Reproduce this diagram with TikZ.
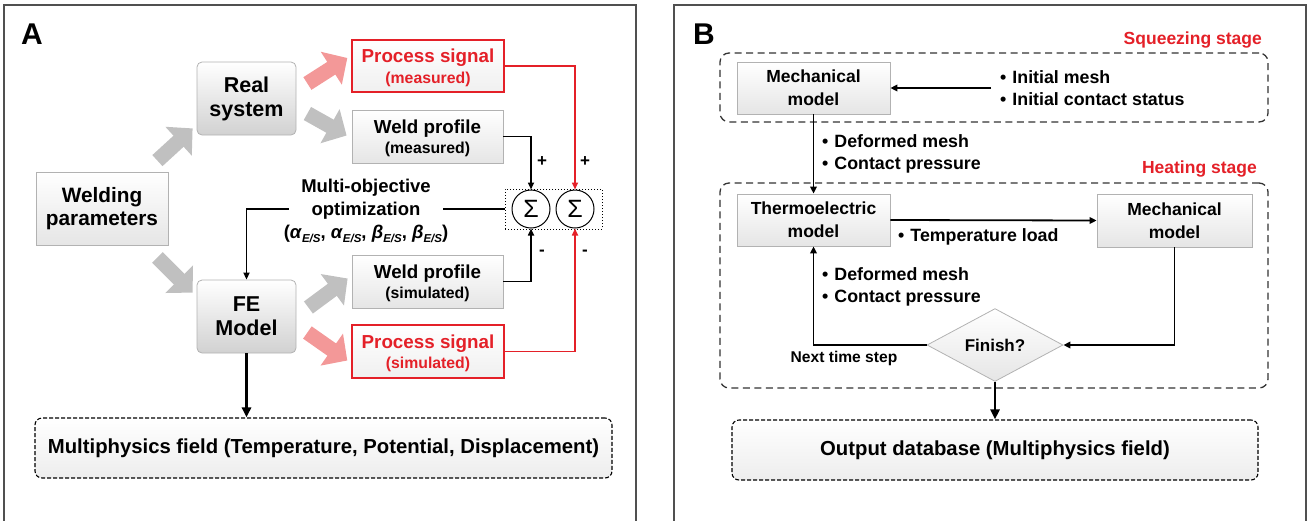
\documentclass[tikz,border=0pt]{standalone}
\usepackage{fontspec}
\setmainfont{Liberation Sans}
\usetikzlibrary{arrows.meta,shapes.geometric,calc}

\definecolor{sigred}{RGB}{228,32,40}
\definecolor{pinkarrow}{RGB}{243,152,152}
\definecolor{grayarrow}{RGB}{192,192,192}
\definecolor{boxedge}{RGB}{178,178,178}
\definecolor{panelgray}{RGB}{80,80,80}

\newcommand{\bigline}{\fontsize{18.8}{20.5}\selectfont}
\newcommand{\smallline}{\fontsize{15.8}{20.5}\selectfont}
\newcommand{\ESsub}{\raisebox{-3.5pt}{\fontsize{11.5}{11.5}\selectfont\itshape E/S}}

\tikzset{
  every node/.style={font=\bfseries},
  panel/.style={draw=panelgray, line width=1.5pt},
  shadebox/.style={draw=boxedge, line width=0.8pt, top color=white, bottom color=black!10,
    align=center, inner sep=0pt},
  roundbox/.style={shadebox, rounded corners=5pt, bottom color=black!18,
    minimum width=99pt, minimum height=73pt, font=\fontsize{21.5}{24}\selectfont\bfseries},
  redbox/.style={shadebox, draw=sigred, line width=1.4pt, bottom color=black!6, text=sigred,
    minimum width=152pt, minimum height=52pt, font=\bigline\bfseries, text depth=-1pt},
  grbox/.style={shadebox, minimum width=151pt, minimum height=53pt, font=\bigline\bfseries,
    text depth=-1pt},
  modelbox/.style={shadebox, font=\fontsize{17.5}{23}\selectfont\bfseries,
    minimum width=153pt, minimum height=52pt},
  outbox/.style={shadebox, draw=black, line width=1.1pt, dash pattern=on 4pt off 2pt,
    rounded corners=7pt, bottom color=black!7, font=\fontsize{20.3}{22}\selectfont\bfseries},
  stagebox/.style={draw=black!80, line width=1.3pt, dash pattern=on 7pt off 4.5pt,
    rounded corners=9pt, inner sep=0pt},
  sumnode/.style={circle, draw=black, line width=1pt, minimum size=38pt, inner sep=0pt,
    font=\fontsize{25}{25}\selectfont\mdseries},
  blk/.style={line width=15pt, -{Triangle[length=19pt,width=38pt]}},
  conn/.style={draw=black, line width=1.6pt, -{Triangle[length=7pt,width=6pt]}},
  redconn/.style={conn, draw=sigred, -{Triangle[length=7pt,width=6pt,fill=sigred]}},
  bconn/.style={draw=black, line width=1.8pt, -{Triangle[length=7pt,width=6.5pt]}},
  thickconn/.style={draw=black, line width=2.6pt, -{Triangle[length=10pt,width=9pt]}},
  txt/.style={font=\fontsize{17.8}{22}\selectfont\bfseries, align=left, inner sep=0pt},
  sign/.style={font=\fontsize{17}{17}\selectfont\bfseries, inner sep=0pt},
  stagelabel/.style={font=\fontsize{17.5}{18}\selectfont\bfseries, text=sigred, inner sep=0pt},
}

\begin{document}
\begin{tikzpicture}[x=1pt,y=-1pt]
\useasboundingbox (0,0) rectangle (1308,520);
\clip (0,0) rectangle (1308,520);

% ---------------- panel A ----------------
\draw[panel] (4,530) -- (4,5) -- (636,5) -- (636,530);
\node[font=\fontsize{30}{30}\selectfont\bfseries] (la) at (32,34) {A};

\node[shadebox, minimum width=132pt, minimum height=73pt,
      font=\fontsize{20.8}{23.5}\selectfont\bfseries] (wp) at (102,208.5) {Welding\\parameters};
\node[roundbox] (rs) at (246.5,98.5) {Real\\system};
\node[roundbox] (fe) at (246.5,316.5) {FE\\Model};

\node[redbox] (ps1) at (428,66)
  {\bigline Process signal\\\smallline (measured)};
\node[grbox] (wpm) at (427.5,136.5)
  {\bigline Weld profile\\\smallline (measured)};
\node[grbox] (wps) at (427.5,281.5)
  {\bigline Weld profile\\\smallline (simulated)};
\node[redbox, minimum height=53pt] (ps2) at (428,351.5)
  {\bigline Process signal\\\smallline (simulated)};

\node[sumnode] (s1) at (531,209) {Σ};
\node[sumnode] (s2) at (575,209) {Σ};
\node[draw=black, line width=1pt, dotted, minimum width=97pt, minimum height=40pt,
      inner sep=0pt] (sb) at (553.5,209) {};

\node[outbox, minimum width=577pt, minimum height=60pt] (mp) at (323.5,448)
  {Multiphysics field (Temperature, Potential, Displacement)};

% block arrows
\draw[blk, grayarrow] ([shift={(-11,-11)}]wp.north east) -- ([shift={(-4,-7)}]rs.south west);
\draw[blk, grayarrow] ([shift={(-11,12)}]wp.south east) -- ([shift={(-4,13)}]fe.north west);
\draw[blk, pinkarrow] ([shift={(11,-15)}]rs.east) -- ([shift={(-4,-8)}]ps1.west);
\draw[blk, grayarrow] ([shift={(11,15)}]rs.east) -- ([shift={(-5,-1)}]wpm.west);
\draw[blk, grayarrow] ([shift={(12,-9)}]fe.east) -- ([shift={(-4,-3)}]wps.west);
\draw[blk, pinkarrow] ([shift={(11,16)}]fe.east) -- ([shift={(-4,9)}]ps2.west);

% connectors into the summing junctions
\draw[conn] (wpm.east) -| (s1.north);
\draw[conn] (wps.east) -| (s1.south);
\draw[redconn] (ps1.east) -| (s2.north);
\draw[redconn] (ps2.east) -| (s2.south);
\node[sign] (p1) at (542,162) {+};
\node[sign] (p2) at (585,162) {+};
\node[sign] (m1) at (542,253) {-};
\node[sign] (m2) at (585,253) {-};

% optimisation feedback to the FE model
\draw[conn] (sb.west) -| (fe.north);
\node[fill=white, align=center, inner xsep=-5pt, inner ysep=1pt,
      font=\fontsize{18.5}{23}\selectfont\bfseries] (mo) at (366,211)
  {Multi-objective\\optimization\\(\textit{α}\ESsub, \textit{α}\ESsub, \textit{β}\ESsub, \textit{β}\ESsub)};

\draw[thickconn] (fe.south) -- (fe.south |- mp.north);

% ---------------- panel B ----------------
\draw[panel] (674,530) -- (674,5) -- (1306,5) -- (1306,530);
\node[font=\fontsize{30}{30}\selectfont\bfseries] (lb) at (704,34) {B};

\node[stagebox, minimum width=548pt, minimum height=69pt] (sq) at (994,87.5) {};
\node[stagebox, minimum width=548pt, minimum height=205pt] (hs) at (994,285.5) {};
\node[stagelabel, anchor=east] (sql) at (1262,40) {Squeezing stage};
\node[stagelabel, anchor=east] (hsl) at (1257,169) {Heating stage};

\node[modelbox] (mm1) at (813.5,88) {Mechanical\\model};
\node[modelbox] (te) at (813.5,220) {Thermoelectric\\model};
\node[modelbox, minimum width=155pt, minimum height=53pt] (mm2) at (1174.5,220.5) {Mechanical\\model};
\node[diamond, draw=boxedge, line width=0.8pt, top color=white, bottom color=black!10,
      minimum width=136pt, minimum height=60pt, inner sep=0pt,
      font=\fontsize{17}{20}\selectfont\bfseries] (fin) at (995,345) {Finish?};
\node[outbox, minimum width=526pt, minimum height=60pt] (od) at (995,450)
  {Output database (Multiphysics field)};

\node[txt, anchor=west, inner xsep=9pt] (init) at (991,88)
  {•\hspace{6pt}Initial mesh\\•\hspace{6pt}Initial contact status};
\node[txt, anchor=west] (dm1) at (822,154)
  {•\hspace{6pt}Deformed mesh\\•\hspace{6pt}Contact pressure};
\node[txt, anchor=west] (tl) at (898,237) {•\hspace{6pt}Temperature load};
\node[txt, anchor=west] (dm2) at (822,287)
  {•\hspace{6pt}Deformed mesh\\•\hspace{6pt}Contact pressure};
\node[font=\fontsize{15.6}{16}\selectfont\bfseries, inner sep=0pt] (nts) at (844,358) {Next time step};

\draw[bconn] (init.west) -- (mm1.east);
\draw[bconn] (mm1.south) -- (te.north);
\draw[bconn] (te.east) -- (mm2.west);
\draw[bconn] (mm2.south) |- (fin.east);
\draw[bconn] (fin.west) -| (te.south);
\draw[thickconn] (fin.south) -- (od.north);
\end{tikzpicture}
\end{document}
